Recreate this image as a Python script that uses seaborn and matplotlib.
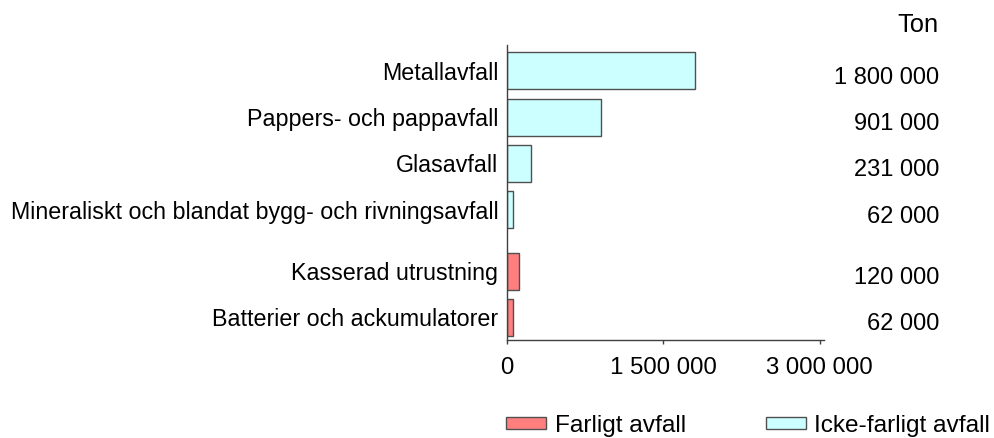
import matplotlib
matplotlib.use("Agg")

import matplotlib.pyplot as plt
import matplotlib.transforms as mtransforms
import pandas as pd
import seaborn as sns

# chart data
categories = [
    "Metallavfall",
    "Pappers- och pappavfall",
    "Glasavfall",
    "Mineraliskt och blandat bygg- och rivningsavfall",
    "Kasserad utrustning",
    "Batterier och ackumulatorer",
]
tons = [1800000, 901000, 231000, 62000, 120000, 62000]
waste_type = [
    "Icke-farligt avfall",
    "Icke-farligt avfall",
    "Icke-farligt avfall",
    "Icke-farligt avfall",
    "Farligt avfall",
    "Farligt avfall",
]
type_order = ["Farligt avfall", "Icke-farligt avfall"]
x_ticks = [0, 1500000, 3000000]

# layout: extra gap between the two groups of bars
group_gap = 0.33
positions = [i + (group_gap if waste_type[i] == "Farligt avfall" else 0) for i in range(len(categories))]

df = pd.DataFrame({"category": categories, "tons": tons, "type": waste_type, "pos": positions})


def fmt(v):
    # swedish style thousands separator
    return f"{v:,}".replace(",", " ")


sns.set_style("white")
plt.rcParams["font.family"] = ["Liberation Sans", "DejaVu Sans"]
plt.rcParams["text.color"] = "black"
plt.rcParams["xtick.color"] = "black"
plt.rcParams["ytick.color"] = "black"

fig = plt.figure(figsize=(9.95, 4.38), dpi=100)
ax = fig.add_axes([506.7 / 995, 98 / 438, 317.3 / 995, 295 / 438])

sns.barplot(
    data=df, x="tons", y="pos", hue="type", hue_order=type_order,
    palette={"Farligt avfall": "#FF7F7F", "Icke-farligt avfall": "#CCFFFF"},
    orient="h", native_scale=True, dodge=False, width=0.8, saturation=1,
    edgecolor="#505050", linewidth=1, ax=ax,
)

ax.set_xlim(0, 3040000)
ax.set_ylim(positions[-1] + 0.49, -0.56)

ax.set_yticks(positions)
ax.set_yticklabels(categories, fontsize=16.75)
ax.tick_params(axis="y", length=0, pad=6)

ax.set_xticks(x_ticks)
ax.set_xticklabels([fmt(v) for v in x_ticks], fontsize=17.3)
ax.tick_params(axis="x", direction="out", length=3, width=1, color="#404040", pad=9, bottom=True)

ax.set_xlabel("")
ax.set_ylabel("")
sns.despine(ax=ax)
for side in ["left", "bottom"]:
    ax.spines[side].set_color("#404040")
    ax.spines[side].set_linewidth(1)

# value column on the right
trans = mtransforms.blended_transform_factory(fig.transFigure, ax.transData)
for p, v in zip(positions, tons):
    ax.text(939 / 995, p + 0.15, fmt(v), transform=trans,
            ha="right", va="center", fontsize=17, clip_on=False)
fig.text(939 / 995, 1 - 31.7 / 438, "Ton", ha="right", va="baseline", fontsize=18.4)

# legend at the bottom
ax.get_legend().remove()
handles, labels = ax.get_legend_handles_labels()
fig.legend(
    handles, labels, loc="center left", bbox_to_anchor=(494 / 995, 1 - 426 / 438),
    ncol=2, frameon=False, fontsize=17.6, borderpad=0, handlelength=1.62,
    handleheight=0.4, handletextpad=0.36, columnspacing=3.28,
)

fig.savefig("out.png", dpi=100)
